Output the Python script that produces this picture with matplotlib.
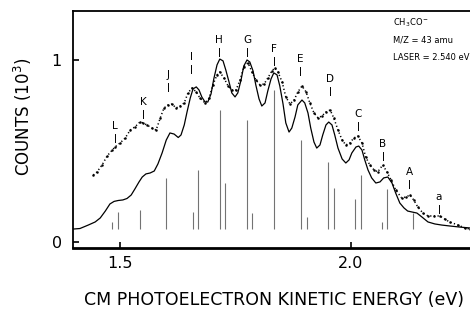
import matplotlib
matplotlib.use("Agg")
import matplotlib.pyplot as plt

# ---- data ----
sim_E = [1.398,1.413,1.431,1.446,1.457,1.468,1.478,1.487,1.496,1.506,1.515,1.524,1.532,1.541,1.548,1.556,1.565,1.574,1.582,1.591,
         1.600,1.608,1.617,1.626,1.632,1.639,1.645,1.652,1.658,1.665,1.671,1.677,1.684,1.690,1.697,1.703,1.710,1.716,1.723,1.729,
         1.736,1.742,1.749,1.755,1.762,1.768,1.775,1.781,1.788,1.794,1.801,1.807,1.814,1.820,1.827,1.833,1.840,1.846,1.853,1.859,
         1.866,1.872,1.879,1.885,1.894,1.900,1.907,1.913,1.920,1.926,1.933,1.939,1.946,1.952,1.959,1.965,1.972,1.981,1.989,1.996,
         2.002,2.011,2.017,2.024,2.030,2.037,2.045,2.054,2.063,2.071,2.080,2.089,2.097,2.106,2.115,2.123,2.132,2.143,2.154,2.167,
         2.182,2.197,2.214,2.236,2.258]
sim_C = [0.071,0.074,0.093,0.110,0.132,0.170,0.209,0.223,0.228,0.231,0.239,0.258,0.291,0.330,0.357,0.374,0.379,0.390,0.429,0.489,
         0.560,0.599,0.593,0.574,0.588,0.643,0.714,0.791,0.841,0.852,0.835,0.797,0.769,0.769,0.813,0.896,0.973,1.005,0.995,0.945,
         0.879,0.819,0.797,0.819,0.890,0.967,1.000,0.989,0.940,0.863,0.786,0.747,0.764,0.830,0.896,0.929,0.918,0.857,0.758,0.654,
         0.604,0.626,0.687,0.753,0.780,0.764,0.709,0.626,0.549,0.516,0.533,0.588,0.643,0.659,0.643,0.588,0.516,0.456,0.434,0.451,
         0.489,0.522,0.527,0.505,0.451,0.396,0.352,0.324,0.330,0.352,0.357,0.324,0.269,0.214,0.187,0.170,0.165,0.159,0.137,0.110,
         0.099,0.093,0.088,0.082,0.077]

exp_E = [1.442,1.450,1.461,1.472,1.483,1.489,1.500,1.511,1.522,1.532,1.543,1.550,1.558,1.569,1.578,1.587,1.595,1.604,1.613,1.621,
         1.630,1.639,1.647,1.656,1.665,1.673,1.684,1.693,1.701,1.710,1.716,1.725,1.734,1.742,1.751,1.760,1.768,1.777,1.786,1.794,
         1.803,1.812,1.820,1.829,1.835,1.842,1.851,1.859,1.868,1.877,1.885,1.894,1.903,1.911,1.920,1.929,1.937,1.946,1.955,1.963,
         1.972,1.981,1.989,1.998,2.006,2.015,2.024,2.032,2.041,2.050,2.058,2.069,2.078,2.087,2.097,2.110,2.119,2.128,2.136,2.145,
         2.156,2.167,2.180,2.193,2.203,2.214,2.232,2.247,2.258]
exp_C = [0.368,0.385,0.423,0.473,0.505,0.522,0.544,0.571,0.615,0.632,0.659,0.654,0.643,0.626,0.615,0.681,0.736,0.753,0.758,0.736,
         0.747,0.764,0.819,0.846,0.824,0.791,0.764,0.791,0.863,0.918,0.934,0.901,0.857,0.835,0.835,0.890,0.962,0.984,0.934,0.890,
         0.863,0.868,0.901,0.940,0.956,0.934,0.879,0.797,0.758,0.780,0.824,0.857,0.824,0.764,0.709,0.681,0.692,0.714,0.725,0.681,
         0.615,0.560,0.533,0.544,0.571,0.582,0.544,0.467,0.423,0.396,0.385,0.423,0.385,0.341,0.286,0.242,0.247,0.258,0.231,0.192,
         0.159,0.143,0.143,0.143,0.126,0.110,0.093,0.077,0.071]

stick_E = [1.483,1.496,1.543,1.600,1.658,1.669,1.716,1.727,1.775,1.786,1.833,1.892,1.905,1.950,1.963,2.009,2.022,2.067,2.078,2.134]
stick_C = [0.110,0.165,0.176,0.352,0.165,0.396,0.725,0.324,0.670,0.159,0.835,0.560,0.137,0.440,0.297,0.236,0.368,0.110,0.291,0.159]
stick_base = 0.071

peak_labels = ["L","K","J","I","H","G","F","E","D","C","B","A","a"]
peak_E = [1.489,1.550,1.604,1.654,1.714,1.775,1.833,1.890,1.955,2.015,2.069,2.126,2.190]
peak_top = [0.593,0.725,0.874,0.973,1.066,1.066,1.016,0.962,0.852,0.659,0.495,0.341,0.203]

x_ticks = [1.5, 2.0]
x_ticklabels = ["1.5", "2.0"]
y_ticks = [0, 1]
y_ticklabels = ["0", "1"]

info_lines = ["CH$_3$CO$^-$", "M/Z = 43 amu", "LASER = 2.540 eV"]

# ---- figure ----
fig = plt.figure(figsize=(4.70, 3.11), dpi=100)
ax = fig.add_axes([73/470, 63/311, 1 - 73/470, 237/311])
ax.set_xlim(1.398, 2.258)
ax.set_ylim(-0.033, 1.269)

ax.vlines(stick_E, stick_base, stick_C, colors="0.45", linewidth=0.8)
ax.plot(sim_E, sim_C, color="black", linewidth=0.9)
ax.plot(exp_E, exp_C, color="black", linewidth=1.1, linestyle=(0, (0.8, 1.6)),
        marker=".", markersize=1.6)

tick_len = 0.042
for lab, e, t in zip(peak_labels, peak_E, peak_top):
    ax.plot([e, e], [t - tick_len, t], color="black", linewidth=0.7)
    ax.text(e, t + 0.018, lab, ha="center", va="bottom", fontsize=7.5)

for i, line in enumerate(info_lines):
    ax.text(0.807, 0.949 - 0.072 * i, line, transform=ax.transAxes,
            ha="left", va="center", fontsize=6.0)

ax.set_xticks(x_ticks)
ax.set_xticklabels(x_ticklabels, fontsize=11.5)
ax.set_yticks(y_ticks)
ax.set_yticklabels(y_ticklabels, fontsize=11.5)
ax.tick_params(direction="in", length=4, width=1.2, pad=6)
ax.tick_params(axis="y", pad=8)

ax.spines["right"].set_visible(False)
ax.spines["left"].set_linewidth(1.3)
ax.spines["top"].set_linewidth(1.3)
ax.spines["bottom"].set_linewidth(2.0)

fig.text(274 / 470, (311 - 300) / 311, "CM PHOTOELECTRON KINETIC ENERGY (eV)",
         ha="center", va="center", fontsize=12.5)
fig.text(23 / 470, (311 - 117) / 311, "COUNTS (10$^3$)", rotation=90,
         ha="center", va="center", fontsize=12)

fig.savefig("out.png", dpi=100)
